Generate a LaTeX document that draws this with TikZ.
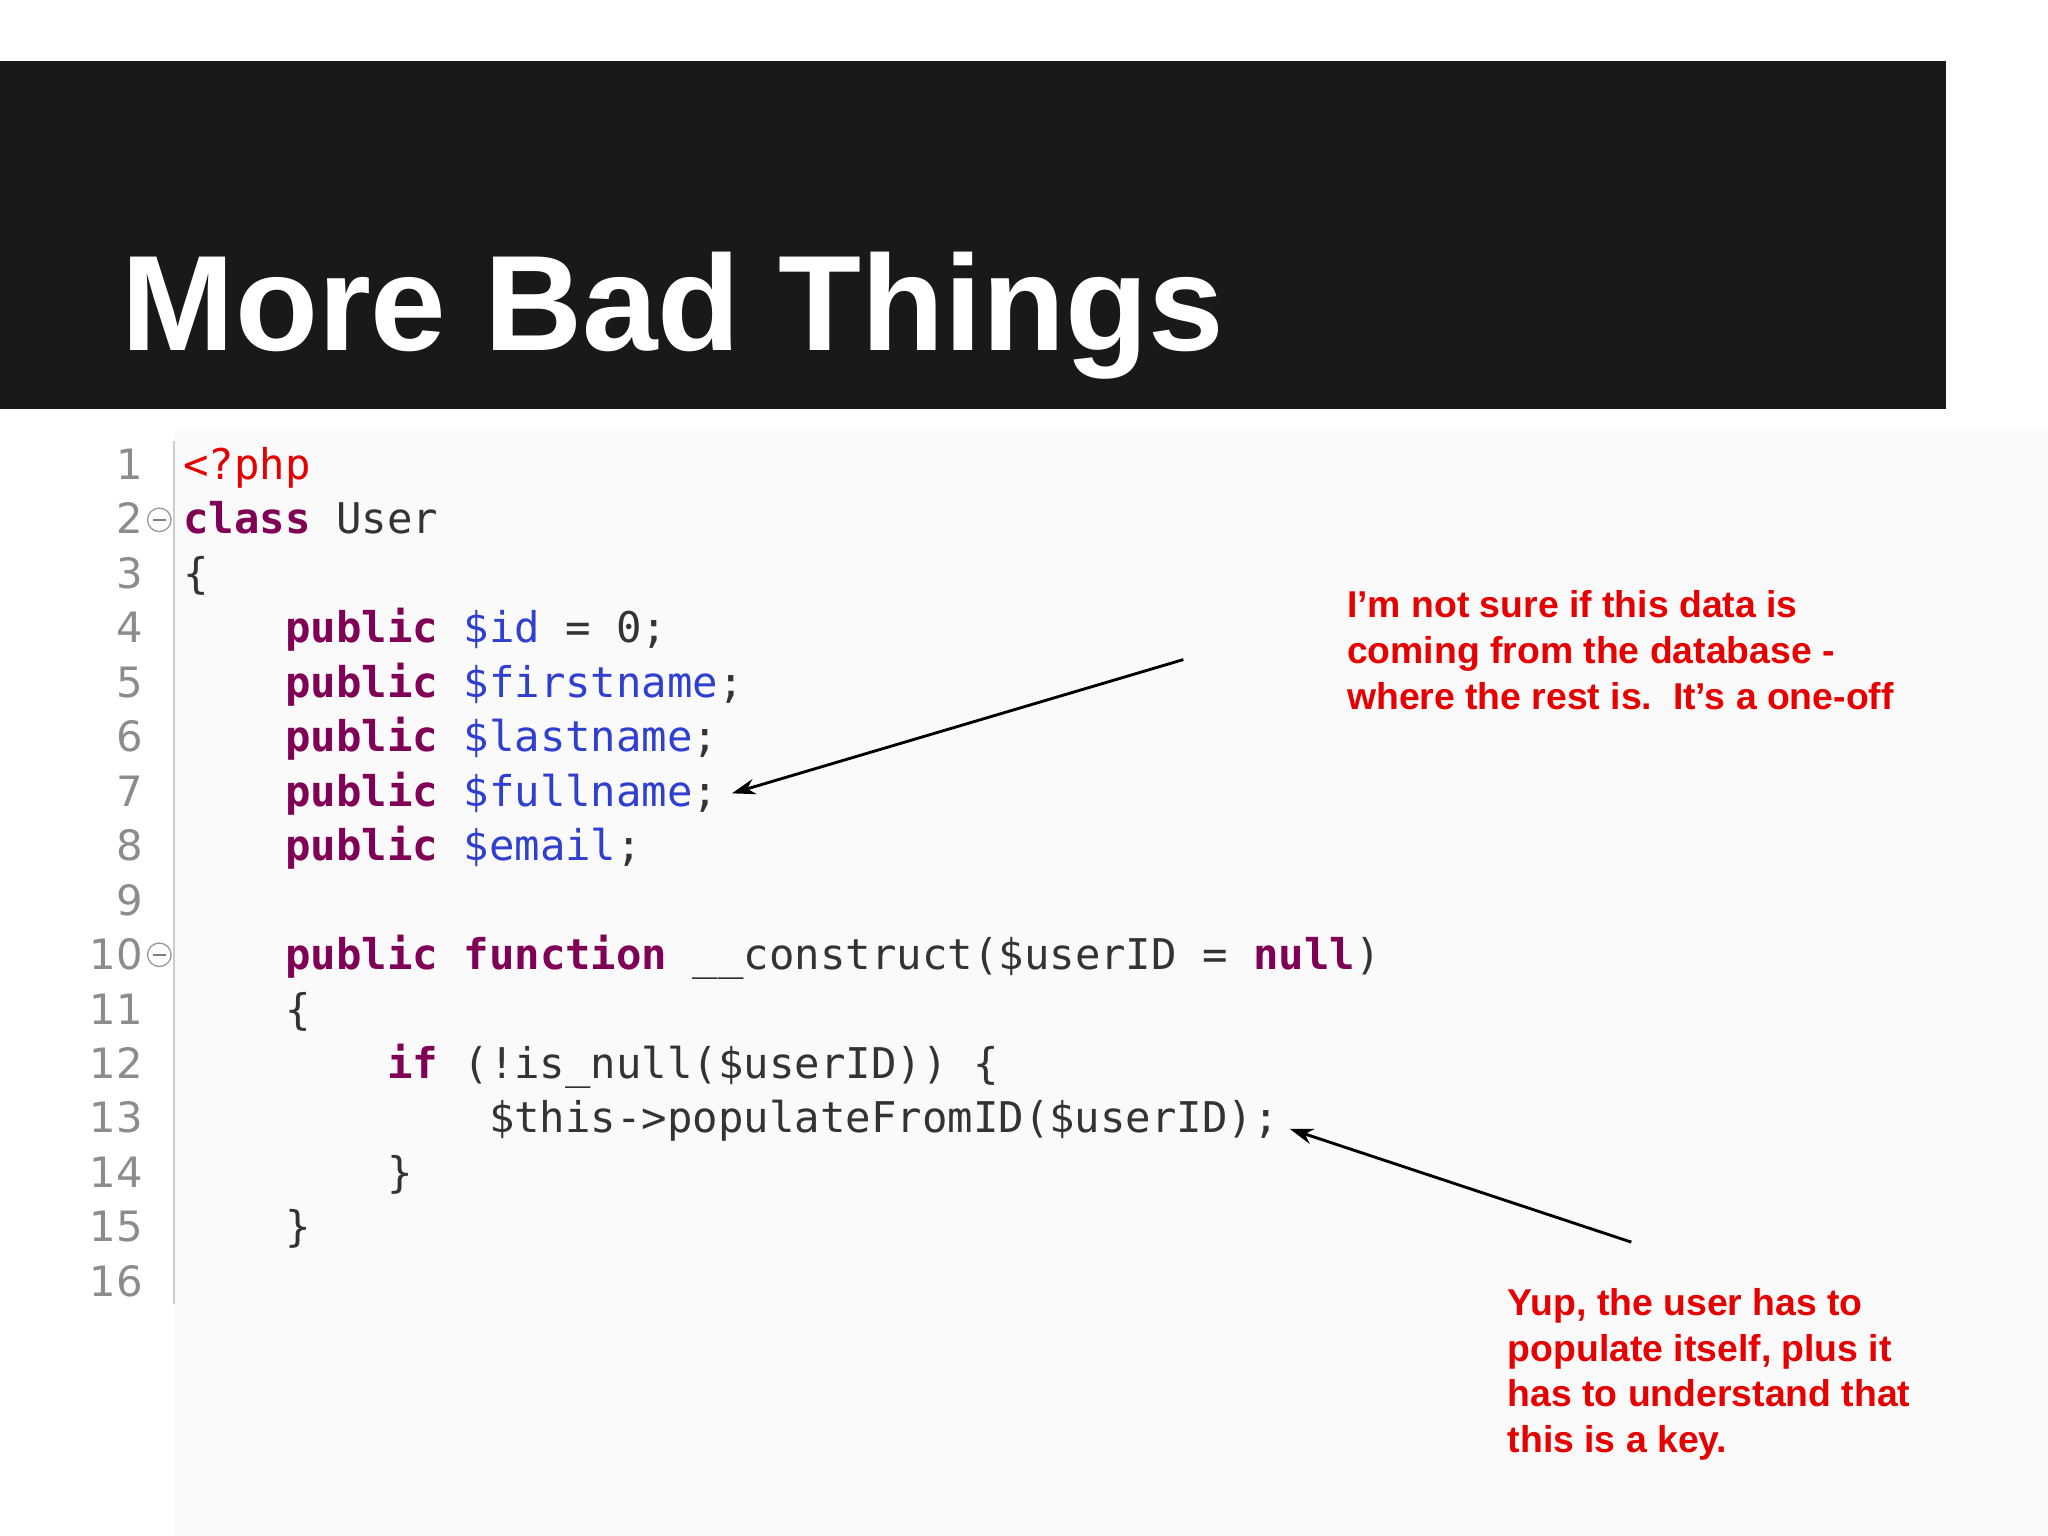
\documentclass[tikz,border=0pt]{standalone}
\usetikzlibrary{arrows.meta}
\usepackage{fontspec}
\setmainfont{Liberation Sans}
\setmonofont{DejaVu Sans Mono}
\newfontfamily\numfont{DejaVu Sans}
\definecolor{kw}{HTML}{7F0055}
\definecolor{fld}{HTML}{2F3FCF}
\definecolor{ann}{HTML}{E60000}
\definecolor{cgray}{HTML}{333333}
\newcommand\K[1]{\textcolor{kw}{\textbf{#1}}}
\newcommand\V[1]{\textcolor{fld}{#1}}
\begin{document}
\begin{tikzpicture}[x=0.5pt,y=-0.5pt,
  code/.style={anchor=base west,inner sep=0,font=\ttfamily\fontsize{16.2}{18}\selectfont,text=cgray},
  lnum/.style={anchor=base east,inner sep=0,font=\numfont\fontsize{16}{18}\selectfont,text=black!45},
  note/.style={anchor=north west,inner sep=0,align=left,font=\bfseries\fontsize{14.3}{17.5}\selectfont,text=ann},
  arr/.style={-{Stealth[length=9pt,width=6pt]},line width=1.1pt}]
\useasboundingbox (0,0) rectangle (1568,1176);
\fill[white] (0,0) rectangle (1568,1176);
\fill[black!2] (133,330) rectangle (1568,1176);
\fill[black!90] (0,47) rectangle (1490,313);
\node[anchor=base west,inner sep=0,text=white,font=\bfseries\fontsize{52}{60}\selectfont] (title) at (93,268) {More Bad Things};
\draw[black!20,line width=0.6pt] (133,338) -- (133,998);
\foreach \n in {1,...,16}{
  \node[lnum] (n\n) at (110,{356+11+(\n-1)*41.7}) {\n};}
\foreach \yy in {398,731}{
  \draw[black!40,fill=white,line width=0.5pt] (122,\yy) circle (4.5pt);
  \draw[black!50,line width=0.6pt] (117,\yy) -- (127,\yy);}
\node[code] (c1) at (140,367) {\textcolor{ann}{<?php}};
\node[code] (c2) at (140,408.7) {\K{class} User};
\node[code] (c3) at (140,450.4) {\{};
\node[code] (c4) at (218,492.1) {\K{public} \V{\$id} = 0;};
\node[code] (c5) at (218,533.8) {\K{public} \V{\$firstname};};
\node[code] (c6) at (218,575.5) {\K{public} \V{\$lastname};};
\node[code] (c7) at (218,617.2) {\K{public} \V{\$fullname};};
\node[code] (c8) at (218,658.9) {\K{public} \V{\$email};};
\node[code] (c10) at (218,742.3) {\K{public} \K{function} \_\_construct(\$userID = \K{null})};
\node[code] (c11) at (218,784) {\{};
\node[code] (c12) at (296,825.7) {\K{if} (!is\_null(\$userID)) \{};
\node[code] (c13) at (374,867.4) {\$this->populateFromID(\$userID);};
\node[code] (c14) at (296,909.1) {\}};
\node[code] (c15) at (218,950.8) {\}};
\node[note] (a1) at (1031,452) {I'm not sure if this data is\\coming from the database -\\where the rest is.\ \ It's a one-off};
\node[note] (a2) at (1154,986) {Yup, the user has to\\populate itself, plus it\\has to understand that\\this is a key.};
\coordinate (s1) at (906,505);
\coordinate (s2) at (1249,951);
\draw[arr] (s1) -- ([xshift=5pt]c7.east);
\draw[arr] (s2) -- ([xshift=4pt,yshift=-3pt]c13.east);
\end{tikzpicture}
\end{document}
